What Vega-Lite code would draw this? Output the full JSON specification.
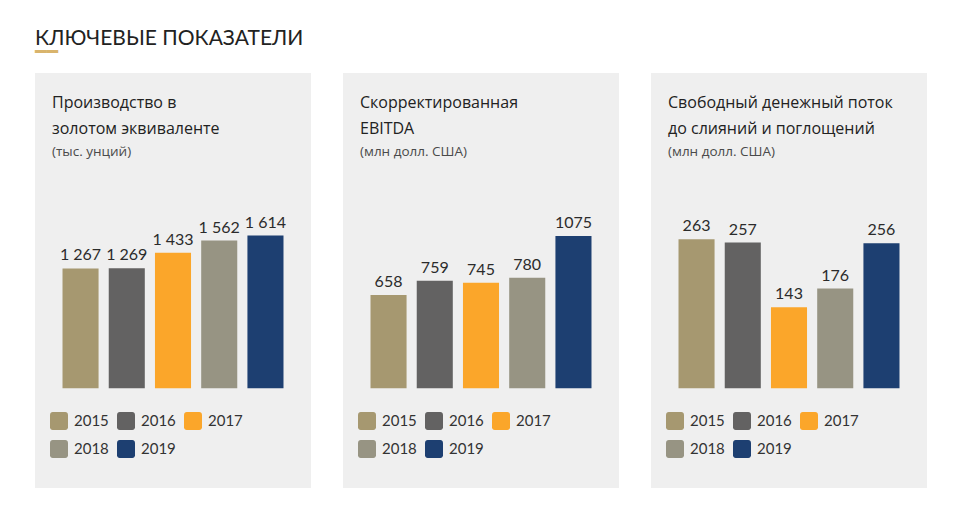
{
  "$schema": "https://vega.github.io/schema/vega-lite/v6.json",
  "background": "white",
  "padding": {"left": 35, "top": 28, "right": 26, "bottom": 22},
  "title": {
    "text": "КЛЮЧЕВЫЕ ПОКАЗАТЕЛИ",
    "subtitle": "━━",
    "anchor": "start",
    "frame": "group",
    "dx": 0,
    "dy": 0,
    "font": "Lato",
    "fontSize": 21,
    "fontWeight": "normal",
    "color": "#222222",
    "lineHeight": 21,
    "subtitleFont": "DejaVu Sans",
    "subtitleFontSize": 19,
    "subtitleColor": "#d9b46c",
    "subtitlePadding": -6,
    "offset": 11
  },
  "datasets": {
    "d": [
      {"panel": "p1", "year": "2015", "value": 1267, "label": "1 267"},
      {"panel": "p1", "year": "2016", "value": 1269, "label": "1 269"},
      {"panel": "p1", "year": "2017", "value": 1433, "label": "1 433"},
      {"panel": "p1", "year": "2018", "value": 1562, "label": "1 562"},
      {"panel": "p1", "year": "2019", "value": 1614, "label": "1 614"},
      {"panel": "p2", "year": "2015", "value": 658, "label": "658"},
      {"panel": "p2", "year": "2016", "value": 759, "label": "759"},
      {"panel": "p2", "year": "2017", "value": 745, "label": "745"},
      {"panel": "p2", "year": "2018", "value": 780, "label": "780"},
      {"panel": "p2", "year": "2019", "value": 1075, "label": "1075"},
      {"panel": "p3", "year": "2015", "value": 263, "label": "263"},
      {"panel": "p3", "year": "2016", "value": 257, "label": "257"},
      {"panel": "p3", "year": "2017", "value": 143, "label": "143"},
      {"panel": "p3", "year": "2018", "value": 176, "label": "176"},
      {"panel": "p3", "year": "2019", "value": 256, "label": "256"}
    ]
  },
  "spacing": 32,
  "resolve": {
    "scale": {"x": "independent", "y": "independent", "color": "independent"},
    "legend": {"color": "independent"}
  },
  "hconcat": [
    {
      "width": 276, "height": 415,
      "title": {"text": ["Производство в", "золотом эквиваленте"], "subtitle": "(тыс. унций)"},
      "data": {"name": "d"},
      "transform": [{"filter": "datum.panel == 'p1'"}],
      "encoding": {
        "x": {"field": "year", "type": "nominal", "scale": {"paddingInner": 0.22, "paddingOuter": 0.595}, "axis": null},
        "y": {"field": "value", "type": "quantitative", "scale": {"domain": [-1054, 3333], "nice": false, "zero": false}, "axis": null}
      },
      "layer": [
        {"mark": {"type": "bar"}, "encoding": {"y2": {"datum": 0}, "color": {"field": "year", "type": "nominal", "scale": {"domain": ["2015", "2016", "2017", "2018", "2019"], "range": ["#a69870", "#636262", "#fba62a", "#979483", "#1d3f71"]}}}},
        {"mark": {"type": "text", "dy": -8, "baseline": "alphabetic", "fontSize": 16, "color": "#2b2b2b"}, "encoding": {"text": {"field": "label"}}}
      ]
    },
    {
      "width": 276, "height": 415,
      "title": {"text": ["Скорректированная", "EBITDA"], "subtitle": "(млн долл. США)"},
      "data": {"name": "d"},
      "transform": [{"filter": "datum.panel == 'p2'"}],
      "encoding": {
        "x": {"field": "year", "type": "nominal", "scale": {"paddingInner": 0.22, "paddingOuter": 0.595}, "axis": null},
        "y": {"field": "value", "type": "quantitative", "scale": {"domain": [-703.6, 2225], "nice": false, "zero": false}, "axis": null}
      },
      "layer": [
        {"mark": {"type": "bar"}, "encoding": {"y2": {"datum": 0}, "color": {"field": "year", "type": "nominal", "scale": {"domain": ["2015", "2016", "2017", "2018", "2019"], "range": ["#a69870", "#636262", "#fba62a", "#979483", "#1d3f71"]}}}},
        {"mark": {"type": "text", "dy": -8, "baseline": "alphabetic", "fontSize": 16, "color": "#2b2b2b"}, "encoding": {"text": {"field": "label"}}}
      ]
    },
    {
      "width": 276, "height": 415,
      "title": {"text": ["Свободный денежный поток", "до слияний и поглощений"], "subtitle": "(млн долл. США)"},
      "data": {"name": "d"},
      "transform": [{"filter": "datum.panel == 'p3'"}],
      "encoding": {
        "x": {"field": "year", "type": "nominal", "scale": {"paddingInner": 0.22, "paddingOuter": 0.595}, "axis": null},
        "y": {"field": "value", "type": "quantitative", "scale": {"domain": [-175.8, 556.1], "nice": false, "zero": false}, "axis": null}
      },
      "layer": [
        {"mark": {"type": "bar"}, "encoding": {"y2": {"datum": 0}, "color": {"field": "year", "type": "nominal", "scale": {"domain": ["2015", "2016", "2017", "2018", "2019"], "range": ["#a69870", "#636262", "#fba62a", "#979483", "#1d3f71"]}}}},
        {"mark": {"type": "text", "dy": -8, "baseline": "alphabetic", "fontSize": 16, "color": "#2b2b2b"}, "encoding": {"text": {"field": "label"}}}
      ]
    }
  ],
  "config": {
    "font": "Lato",
    "view": {"fill": "#efefef", "stroke": null},
    "title": {"anchor": "start", "frame": "group", "orient": "top", "offset": 0, "dx": 17, "dy": 89,
      "font": "Open Sans", "fontSize": 16, "fontWeight": "normal", "color": "#222222", "lineHeight": 26,
      "subtitleFont": "Open Sans", "subtitleFontSize": 13.5, "subtitleColor": "#4a4a4a", "subtitlePadding": 8},
    "legend": {
      "orient": "none", "legendX": 15, "legendY": 339, "columns": 3, "direction": "horizontal",
      "title": null, "padding": 0,
      "symbolType": "M-0.7,-1H0.7A0.3,0.3 0 0 1 1,-0.7V0.7A0.3,0.3 0 0 1 0.7,1H-0.7A0.3,0.3 0 0 1 -1,0.7V-0.7A0.3,0.3 0 0 1 -0.7,-1Z",
      "symbolSize": 324, "symbolStrokeWidth": 0, "symbolOpacity": 1,
      "labelFont": "Lato", "labelFontSize": 15, "labelColor": "#333333", "labelOffset": 6,
      "columnPadding": 8, "rowPadding": 10
    }
  }
}
